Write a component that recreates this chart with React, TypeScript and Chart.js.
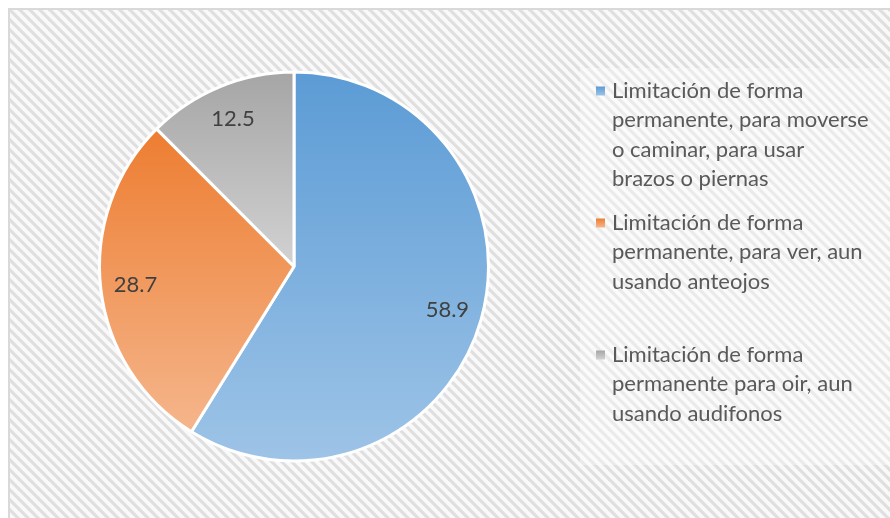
import React, { useEffect, useRef } from "react";
import { Chart, registerables } from "chart.js";

Chart.register(...registerables);

const categories: string[][] = [
  ["Limitación de forma", "permanente, para moverse", "o caminar, para usar", "brazos o piernas"],
  ["Limitación de forma", "permanente, para ver, aun", "usando anteojos"],
  ["Limitación de forma", "permanente para oir, aun", "usando audifonos"],
];
const values: number[] = [58.9, 28.7, 12.5];
const valueLabels: string[] = ["58.9", "28.7", "12.5"];
const baseColors: string[] = ["#5b9bd5", "#ed7d31", "#a5a5a5"];
const lightColors: string[] = ["#9ec4e7", "#f5b68c", "#d2d2d2"];

const FONT = "Lato, 'Open Sans', sans-serif";

function sliceYRange(idx: number, cx: number, cy: number, r: number) {
  const total = values.reduce((a, b) => a + b, 0);
  let cum = 0;
  for (let i = 0; i < idx; i++) cum += values[i];
  const a0 = -Math.PI / 2 + (cum / total) * Math.PI * 2;
  const a1 = -Math.PI / 2 + ((cum + values[idx]) / total) * Math.PI * 2;
  const ys = [cy, cy + r * Math.sin(a0), cy + r * Math.sin(a1)];
  const inRange = (a: number) => {
    for (let k = -2; k <= 2; k++) {
      const b = a + k * Math.PI * 2;
      if (b >= a0 && b <= a1) return true;
    }
    return false;
  };
  if (inRange(Math.PI / 2)) ys.push(cy + r);
  if (inRange(-Math.PI / 2)) ys.push(cy - r);
  return [Math.min(...ys), Math.max(...ys)];
}

function makePattern(ctx: CanvasRenderingContext2D) {
  const t = document.createElement("canvas");
  t.width = 10;
  t.height = 10;
  const c = t.getContext("2d")!;
  c.fillStyle = "#f9f9f9";
  c.fillRect(0, 0, 10, 10);
  c.strokeStyle = "#dfdfdf";
  c.lineWidth = 3.2;
  for (const k of [-10, 0, 10]) {
    c.beginPath();
    c.moveTo(k - 1, -1);
    c.lineTo(k + 11, 11);
    c.stroke();
  }
  return ctx.createPattern(t, "repeat");
}

const backgroundPlugin = {
  id: "hatchBg",
  beforeDraw(chart: any) {
    const ctx: CanvasRenderingContext2D = chart.ctx;
    const w = chart.width;
    const h = chart.height;
    ctx.save();
    const p = makePattern(ctx);
    if (p) ctx.fillStyle = p;
    ctx.fillRect(0, 0, w, h);
    // legend box lighter overlay
    ctx.fillStyle = "rgba(255,255,255,0.35)";
    ctx.fillRect(572, 60, 320, 397);
    // frame
    ctx.strokeStyle = "#d9d9d9";
    ctx.lineWidth = 2;
    ctx.strokeRect(1, 1, w - 2, h - 2);
    ctx.restore();
  },
};

const labelsPlugin = {
  id: "sliceLabels",
  afterDatasetsDraw(chart: any) {
    const ctx: CanvasRenderingContext2D = chart.ctx;
    const meta = chart.getDatasetMeta(0);
    ctx.save();
    ctx.font = `22px ${FONT}`;
    ctx.fillStyle = "#404040";
    ctx.textAlign = "center";
    ctx.textBaseline = "middle";
    meta.data.forEach((arc: any, i: number) => {
      const { x, y, startAngle, endAngle, outerRadius } = arc.getProps(
        ["x", "y", "startAngle", "endAngle", "outerRadius"],
        true
      );
      const mid = (startAngle + endAngle) / 2;
      const rr = outerRadius * 0.82;
      ctx.fillText(valueLabels[i], x + Math.cos(mid) * rr, y + Math.sin(mid) * rr);
    });
    ctx.restore();
  },
};

const legendPlugin = {
  id: "customLegend",
  afterDraw(chart: any) {
    const ctx: CanvasRenderingContext2D = chart.ctx;
    ctx.save();
    ctx.font = `22px ${FONT}`;
    ctx.fillStyle = "#595959";
    ctx.textAlign = "left";
    ctx.textBaseline = "middle";
    const x0 = 604;
    const y0 = 83;
    const lineH = 29.3;
    const itemStep = 132;
    categories.forEach((lines, i) => {
      const top = y0 + i * itemStep;
      const mx = 588;
      const my = top - 4.5;
      const g = ctx.createLinearGradient(0, my, 0, my + 9);
      g.addColorStop(0, baseColors[i]);
      g.addColorStop(1, lightColors[i]);
      ctx.fillStyle = g;
      ctx.fillRect(mx, my, 9, 9);
      ctx.fillStyle = "#595959";
      lines.forEach((ln, j) => {
        ctx.fillText(ln, x0, top + j * lineH);
      });
    });
    ctx.restore();
  },
};

export default function App() {
  const ref = useRef<HTMLCanvasElement | null>(null);

  useEffect(() => {
    if (!ref.current) return;
    const chart = new Chart(ref.current, {
      type: "pie",
      data: {
        labels: categories.map((l) => l.join(" ")),
        datasets: [
          {
            data: values,
            borderColor: "#ffffff",
            borderWidth: 3,
            backgroundColor: (c: any) => {
              const ch = c.chart;
              const area = ch.chartArea;
              const i = c.dataIndex;
              if (!area || i === undefined) return baseColors[i ?? 0];
              const cx = (area.left + area.right) / 2;
              const cy = (area.top + area.bottom) / 2;
              const r = Math.min(area.right - area.left, area.bottom - area.top) / 2;
              const [y0, y1] = sliceYRange(i, cx, cy, r);
              const g = ch.ctx.createLinearGradient(0, y0, 0, y1);
              g.addColorStop(0, baseColors[i]);
              g.addColorStop(1, lightColors[i]);
              return g;
            },
          },
        ],
      },
      options: {
        responsive: false,
        animation: false,
        layout: { padding: { left: 90, right: 408, top: 62, bottom: 63 } },
        plugins: {
          legend: { display: false },
          tooltip: { enabled: false },
        },
      },
      plugins: [backgroundPlugin, labelsPlugin, legendPlugin],
    });
    return () => chart.destroy();
  }, []);

  return (
    <div style={{ position: "fixed", left: 8, top: 8, width: 890, height: 518 }}>
      <canvas ref={ref} width={890} height={518} />
    </div>
  );
}
